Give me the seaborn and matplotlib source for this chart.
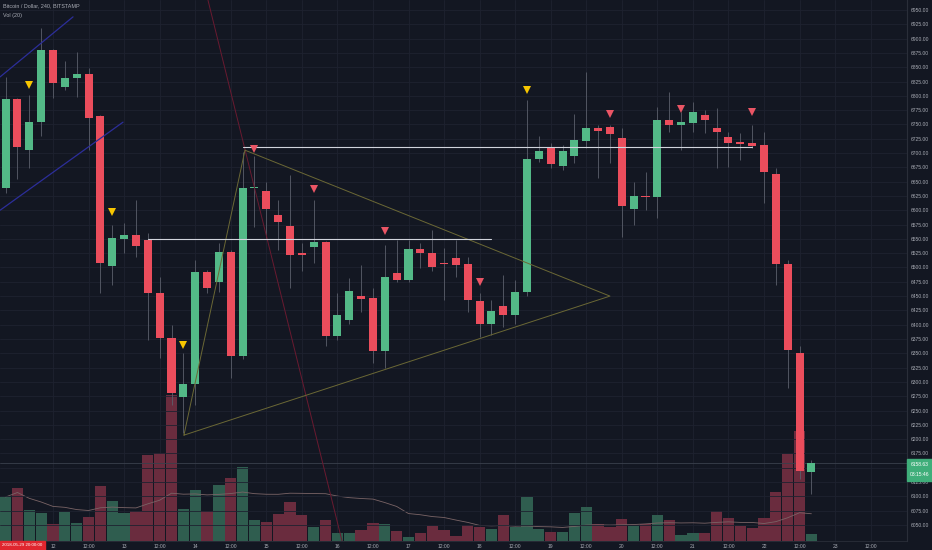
import numpy as np
import pandas as pd
import matplotlib
matplotlib.use('Agg')
import matplotlib.pyplot as plt
import seaborn as sns
from matplotlib.patches import Rectangle

# 4h candles, index 0 = 2018-06-12 00:00
candle_idx = list(range(-4, 65))
opens = [6639, 6794, 6705, 6754, 6880, 6815, 6832, 6839, 6764, 6503,
         6550, 6557, 6548, 6455, 6376, 6274, 6296, 6492, 6474, 6527,
         6346, 6639, 6634, 6591, 6573, 6526, 6535, 6544, 6380, 6409,
         6450, 6446, 6354, 6490, 6479, 6532, 6526, 6508, 6517, 6506,
         6442, 6401, 6433, 6417, 6457, 6690, 6708, 6678, 6695, 6721,
         6744, 6746, 6726, 6603, 6625, 6624, 6758, 6749, 6753, 6767,
         6744, 6728, 6719, 6717, 6714, 6663, 6506, 6351, 6143]
highs = [6833, 6796, 6801, 6918, 6882, 6860, 6877, 6848, 6766, 6574,
         6578, 6618, 6560, 6484, 6400, 6350, 6513, 6495, 6542, 6530,
         6701, 6694, 6650, 6618, 6662, 6543, 6618, 6546, 6455, 6481,
         6504, 6464, 6539, 6548, 6548, 6542, 6566, 6534, 6548, 6519,
         6455, 6443, 6487, 6478, 6793, 6729, 6717, 6714, 6769, 6842,
         6749, 6749, 6743, 6650, 6667, 6781, 6807, 6772, 6790, 6775,
         6778, 6737, 6735, 6749, 6737, 6673, 6513, 6362, 6164]
lows = [6630, 6654, 6674, 6729, 6797, 6810, 6798, 6705, 6455, 6469,
        6525, 6519, 6373, 6341, 6260, 6210, 6260, 6455, 6458, 6306,
        6340, 6571, 6551, 6531, 6464, 6493, 6507, 6362, 6373, 6402,
        6423, 6333, 6324, 6475, 6475, 6499, 6493, 6443, 6484, 6423,
        6379, 6382, 6396, 6402, 6451, 6685, 6673, 6670, 6682, 6708,
        6656, 6682, 6554, 6574, 6600, 6586, 6737, 6705, 6737, 6735,
        6673, 6676, 6688, 6708, 6612, 6469, 6289, 6130, 6105]
closes = [6794, 6710, 6754, 6880, 6822, 6832, 6839, 6761, 6507, 6551,
          6556, 6538, 6455, 6376, 6280, 6296, 6492, 6465, 6527, 6346,
          6639, 6641, 6602, 6579, 6522, 6522, 6544, 6380, 6417, 6459,
          6445, 6354, 6483, 6479, 6532, 6525, 6501, 6506, 6504, 6443,
          6401, 6424, 6417, 6458, 6690, 6704, 6680, 6704, 6723, 6744,
          6739, 6733, 6607, 6625, 6624, 6758, 6749, 6754, 6772, 6757,
          6736, 6718, 6716, 6713, 6667, 6506, 6356, 6145, 6158.63]
volumes = [1320, 1590, 930, 840, 510, 870, 540, 720, 1650, 1200,
           840, 900, 2580, 2640, 4380, 960, 1530, 900, 1680, 1890,
           2220, 630, 570, 810, 1170, 780, 420, 630, 240, 240,
           330, 540, 510, 300, 120, 240, 450, 330, 150, 480,
           420, 360, 780, 420, 1320, 360, 270, 270, 840, 1020,
           510, 420, 660, 450, 510, 780, 630, 180, 240, 240,
           900, 690, 450, 390, 690, 1470, 2610, 3300, 210]

days = ['12', '13', '14', '15', '16', '17', '18', '19', '20', '21', '22', '23']
price_ticks = list(range(6050, 6951, 25))
last_price = 6158.63

# drawing tools: (candle index, price) anchors
channel_upper_x, channel_upper_y = [-4.47, 1.69], [6833, 6938]
channel_lower_x, channel_lower_y = [-4.47, 5.91], [6600, 6754]
diag_x, diag_y = [13.08, 24.39], [6967, 6022]
tri_x, tri_y = [11.05, 16.2, 47.0, 11.05], [6207, 6705, 6450, 6207]
resist_x, resist_y = [16, 59], [6710, 6710]
level_x, level_y = [8, 37], [6549, 6549]
yellow_x, yellow_y = [-2, 5, 11, 40], [6819, 6597, 6364, 6810]
redmark_x, redmark_y = [17, 22, 28, 36, 47, 53, 59], [6707, 6638, 6564, 6475, 6769, 6777, 6771]

BG = '#131722'
GRID = '#1e2230'
UP, DOWN = '#53b987', '#eb4d5c'
TXT = '#a9acb5'

sns.set_style('dark')
plt.rcParams['font.family'] = ['Liberation Sans', 'DejaVu Sans']

df = pd.DataFrame({'k': candle_idx, 'open': opens, 'high': highs,
                   'low': lows, 'close': closes, 'vol': volumes})
df['dir'] = np.where(df['close'] >= df['open'], 'up', 'down')
df['ma'] = df['vol'].rolling(20, min_periods=1).mean()

fig = plt.figure(figsize=(9.32, 5.5), dpi=100)
fig.patch.set_facecolor(BG)
rect = [0, 9 / 550, 907 / 932, 541 / 550]
xlim = (-53 / 11.85, 854 / 11.85)

# volume pane (behind)
vax = fig.add_axes(rect)
vax.set_facecolor(BG)
sns.barplot(data=df, x='k', y='vol', hue='dir', palette={'up': '#2f5d4f', 'down': '#6a2c3e'},
            native_scale=True, dodge=False, width=0.95, errorbar=None, legend=False,
            saturation=1, linewidth=0, ax=vax)
sns.lineplot(x=df['k'], y=df['ma'], color='#7a6466', lw=0.6, ax=vax)
vax.set_ylim(0, 541 * 30)
vax.set_xlim(xlim)
tick_pos = list(range(0, 72, 3))
vax.set_xticks(tick_pos)
vax.grid(axis='x', color=GRID, lw=0.6)
vax.grid(axis='y', visible=False)
vax.set_axisbelow(True)
vax.tick_params(labelbottom=False, labelleft=False, length=0)
vax.set_xlabel('')
vax.set_ylabel('')
for s in vax.spines.values():
    s.set_visible(False)

# price pane
ax = fig.add_axes(rect)
ax.set_facecolor('none')
ax.set_xlim(xlim)
ax.set_ylim(6950 - 531 / 0.5722, 6950 + 10 / 0.5722)

body_lo = df[['open', 'close']].min(axis=1)
body_h = (df['close'] - df['open']).abs().clip(lower=1.8)
colors = [UP if d == 'up' else DOWN for d in df['dir']]
ax.vlines(df['k'], df['low'], df['high'], color='#5b5f6b', lw=0.6, zorder=3)
ax.bar(df['k'], body_h, bottom=body_lo, width=0.68, color=colors, linewidth=0, zorder=4)

ax.axhline(last_price, color='#3a404c', lw=0.6, zorder=2)
ax.plot(channel_upper_x, channel_upper_y, color='#2c2e9a', lw=0.9, zorder=5)
ax.plot(channel_lower_x, channel_lower_y, color='#2c2e9a', lw=0.9, zorder=5)
ax.plot(diag_x, diag_y, color='#6a1a30', lw=0.7, zorder=5)
ax.plot(tri_x, tri_y, color='#6b6835', lw=0.7, zorder=5)
ax.plot(resist_x, resist_y, color='#d1d4dc', lw=0.8, zorder=5)
ax.plot(level_x, level_y, color='#d1d4dc', lw=0.8, zorder=5)
ax.plot(yellow_x, yellow_y, 'v', color='#f7c600', ms=5.8, mew=0, ls='none', zorder=6)
ax.plot(redmark_x, redmark_y, 'v', color='#ea5565', ms=5.8, mew=0, ls='none', zorder=6)

ax.set_yticks(price_ticks)
ax.set_yticklabels([f'{p:.2f}' for p in price_ticks])
ax.yaxis.tick_right()
ax.grid(axis='y', color=GRID, lw=0.6)
ax.grid(axis='x', visible=False)
ax.set_axisbelow(True)
ax.set_xticks(tick_pos)
labels = []
for d in days:
    labels += [d, '12:00']
ax.set_xticklabels(labels)
ax.tick_params(axis='both', length=0, labelsize=3.6, labelcolor=TXT)
ax.tick_params(axis='x', pad=1.8)
ax.tick_params(axis='y', pad=3)
for s in ['top', 'left']:
    ax.spines[s].set_visible(False)
ax.spines['right'].set_color('#2a2e39')
ax.spines['bottom'].set_color('#2a2e39')
ax.spines['right'].set_linewidth(0.8)
ax.spines['bottom'].set_linewidth(0.6)

# header
fig.text(3 / 932, 1 - 6 / 550, 'Bitcoin / Dollar, 240, BITSTAMP', fontsize=3.9, color=TXT, va='center')
fig.text(3 / 932, 1 - 15 / 550, 'Vol (20)', fontsize=3.9, color=TXT, va='center')

# last price label
fig.add_artist(Rectangle((907 / 932, 69 / 550), 25 / 932, 22 / 550,
                         transform=fig.transFigure, color='#3fae7a', zorder=10))
fig.text(919.5 / 932, 1 - 464 / 550, '6158.63', fontsize=3.6, color='white',
         ha='center', va='center', zorder=11)
fig.text(919.5 / 932, 1 - 475 / 550, '03:15:46', fontsize=3.6, color='white',
         ha='center', va='center', zorder=11)

# crosshair time label
fig.add_artist(Rectangle((0, 0), 45 / 932, 9 / 550, transform=fig.transFigure,
                         color='#e0262e', zorder=10))
fig.text(22.5 / 932, 4.5 / 550, '2018-05-29 20:00:00', fontsize=3.2, color='white',
         ha='center', va='center', zorder=11)

fig.savefig('out.png', dpi=100, facecolor=BG)
